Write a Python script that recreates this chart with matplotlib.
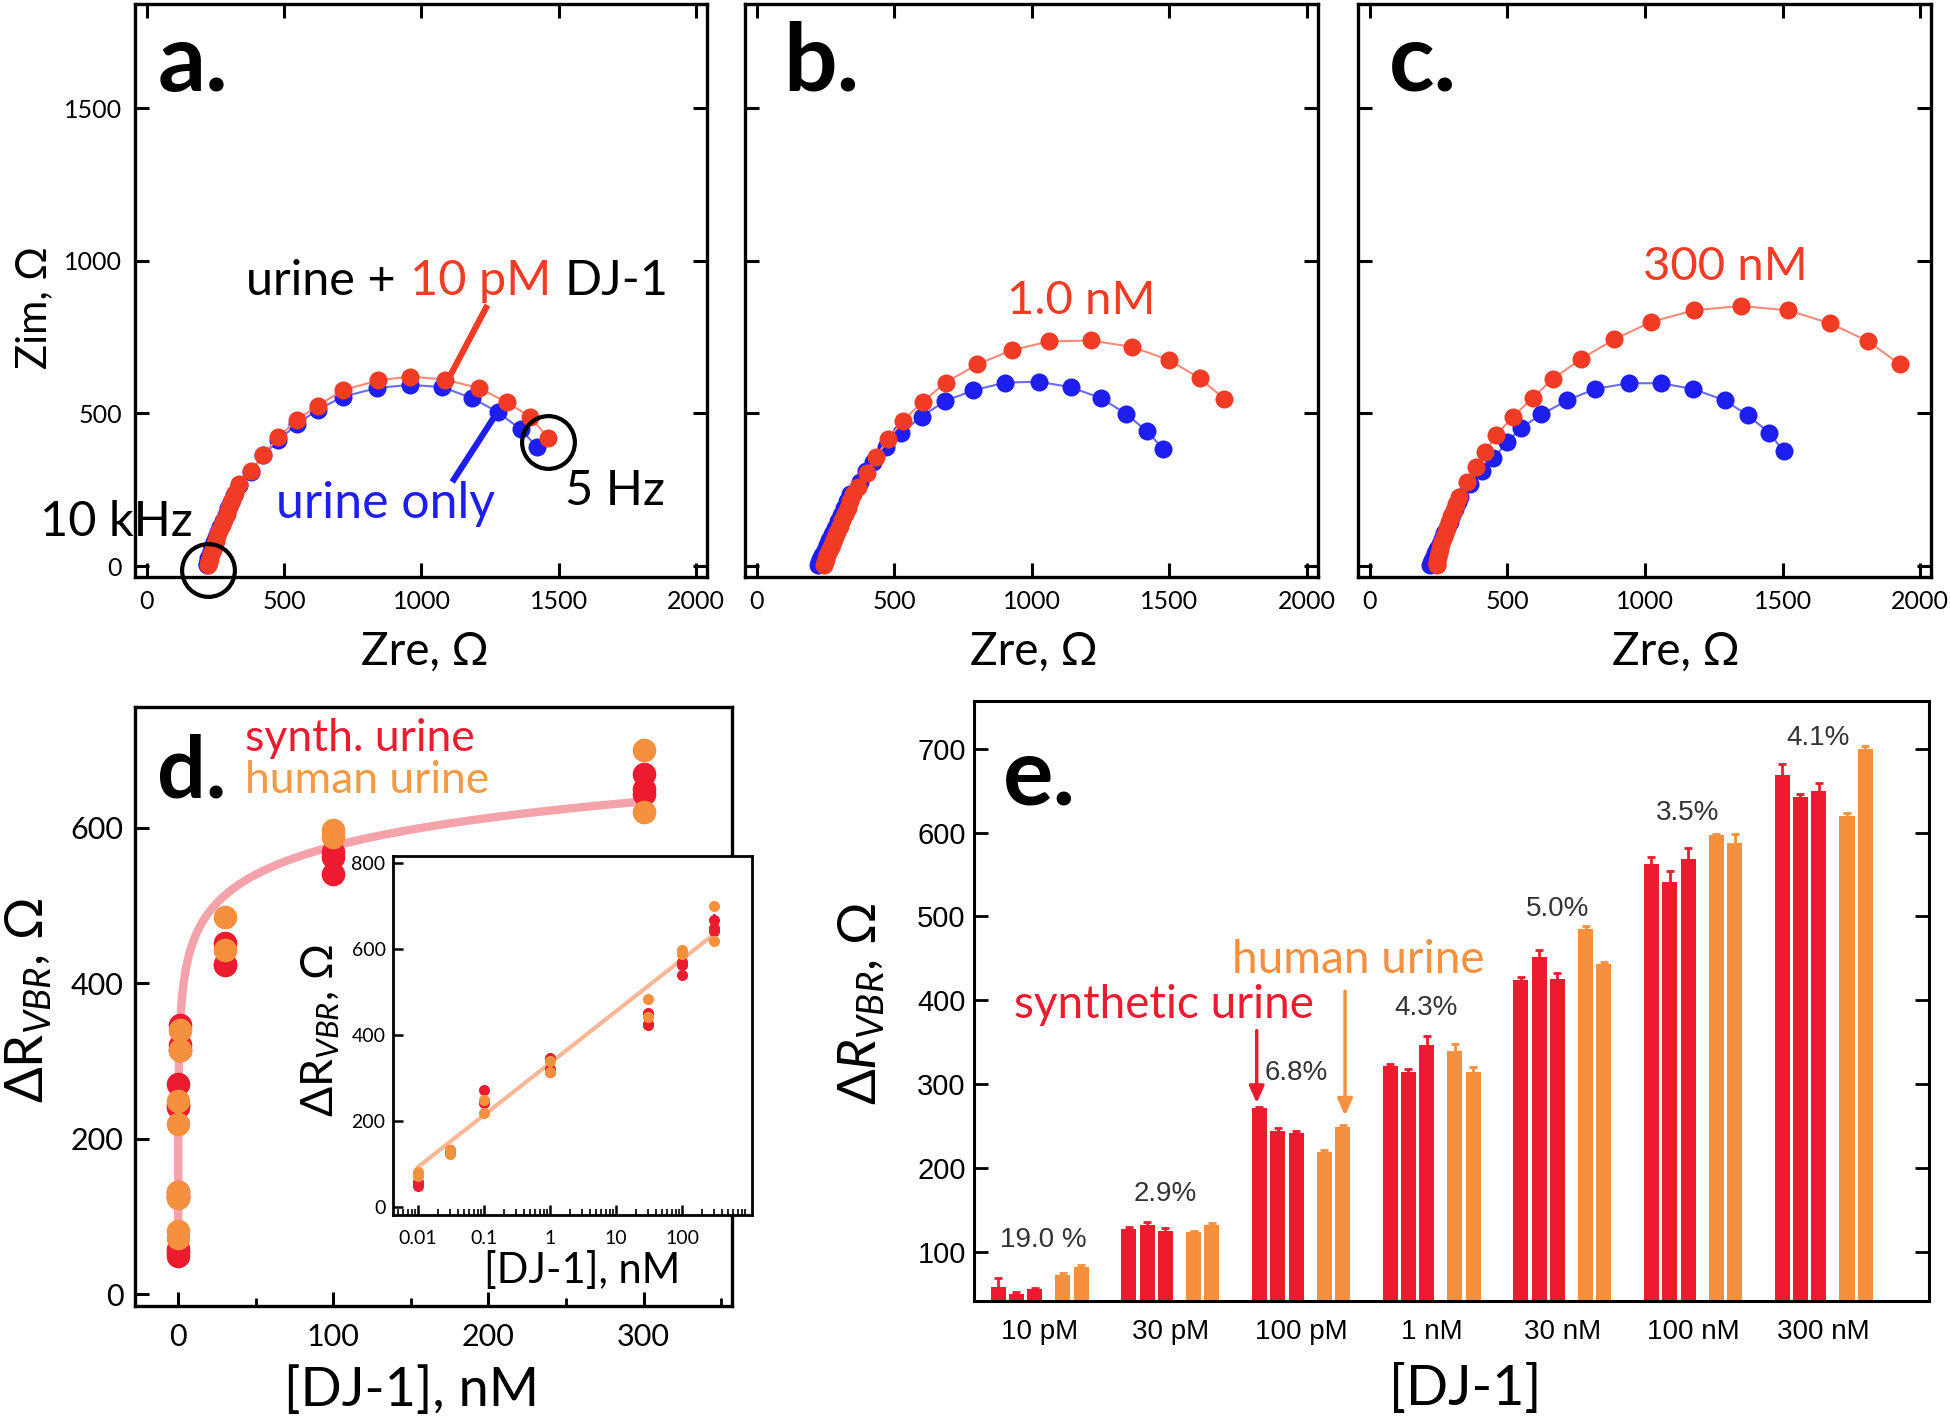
import numpy as np
import matplotlib.pyplot as plt

plt.rcParams['font.family'] = ['Lato', 'DejaVu Sans']
plt.rcParams['mathtext.fontset'] = 'custom'
plt.rcParams['mathtext.rm'] = 'Lato'
plt.rcParams['mathtext.it'] = 'Lato:italic'

a_blue_zre = [1420, 1361, 1277, 1185, 1076, 958, 837, 714, 622, 546, 479, 424, 378, 336,
              318, 307, 297, 287, 277, 268, 259, 251, 244, 238, 232, 228, 224, 221, 219, 218]
a_blue_zim = [391, 448, 505, 550, 586, 594, 583, 555, 512, 465, 412, 363, 309, 266,
              232, 210, 189, 168, 148, 129, 111, 94, 78, 63, 49, 36, 25, 15, 7, 2]
a_red_zre = [1462, 1395, 1311, 1210, 1084, 958, 840, 714, 622, 546, 479, 424, 378, 336,
             322, 310, 300, 290, 281, 272, 264, 257, 250, 244, 239, 234, 230, 227, 225, 224]
a_red_zim = [419, 490, 536, 583, 611, 621, 608, 576, 526, 479, 422, 365, 313, 270,
             240, 215, 193, 172, 152, 133, 115, 98, 82, 66, 52, 39, 28, 18, 10, 4]

b_blue_zre = [1477, 1419, 1343, 1252, 1141, 1025, 903, 787, 683, 599, 524, 469, 423, 398, 375, 339,
              328, 318, 306, 295, 284, 273, 263, 254, 246, 238, 231, 226, 222]
b_blue_zim = [384, 441, 498, 550, 586, 604, 601, 576, 540, 490, 436, 391, 342, 310, 277, 235,
              212, 190, 168, 147, 126, 106, 87, 69, 52, 37, 24, 13, 5]
b_red_zre = [1700, 1610, 1497, 1365, 1213, 1061, 927, 801, 686, 603, 532, 475, 433, 399, 368,
             350, 340, 330, 320, 311, 302, 293, 284, 276, 268, 261, 255, 250, 247, 245]
b_red_zim = [547, 616, 675, 718, 739, 736, 707, 661, 601, 539, 476, 415, 356, 304, 260,
             235, 212, 190, 170, 150, 131, 113, 96, 80, 64, 49, 35, 23, 12, 4]

c_blue_zre = [1504, 1452, 1374, 1289, 1176, 1058, 940, 817, 718, 623, 548, 499, 449, 407, 364, 329,
              320, 310, 300, 290, 280, 270, 261, 253, 245, 238, 232, 227, 223, 220]
c_blue_zim = [376, 436, 494, 543, 580, 599, 599, 580, 543, 497, 452, 405, 355, 312, 270, 227,
              210, 188, 167, 146, 126, 107, 89, 72, 56, 42, 30, 19, 10, 3]
c_red_zre = [1926, 1812, 1674, 1518, 1348, 1178, 1023, 888, 768, 666, 591, 521, 457, 420, 385, 351,
             322, 313, 304, 296, 288, 280, 273, 266, 260, 255, 250, 247, 245, 244, 244]
c_red_zim = [661, 736, 795, 838, 852, 838, 800, 743, 679, 614, 551, 490, 428, 373, 324, 275,
             227, 205, 184, 163, 143, 124, 106, 89, 72, 56, 42, 29, 17, 8, 2]

# ---- calibration data (panels d, e) ----
conc_nM = [0.01, 0.03, 0.1, 1, 30, 100, 300]
conc_labels = ['10 pM', '30 pM', '100 pM', '1 nM', '30 nM', '100 nM', '300 nM']
synth = [[58, 49, 55], [127, 132, 125], [271, 244, 241], [321, 314, 347],
         [424, 452, 425], [563, 541, 569], [669, 643, 650]]
synth_err = [[10, 3, 1], [2, 3, 3], [2, 3, 3], [3, 4, 10],
             [4, 8, 7], [8, 13, 13], [13, 3, 9]]
human = [[72, 82], [124, 132], [219, 249], [340, 314], [485, 443], [597, 588], [620, 700]]
human_err = [[2, 2], [1, 2], [2, 2], [8, 6], [4, 3], [2, 10], [3, 3]]
rsd_labels = ['19.0 %', '2.9%', '6.8%', '4.3%', '5.0%', '3.5%', '4.1%']
rsd_y = [105, 161, 305, 382, 501, 615, 705]
# log-linear calibration fit: dR = b0 + b1*log10(c)
fit_b0 = 334.6
fit_b1 = 120.9

RED_NQ = '#F23B24'
BLUE_NQ = '#1E1EF0'
RED = '#ED1B2F'
ORANGE = '#F5913E'

fig = plt.figure(figsize=(19.5, 14.21), dpi=100)


def nyquist(ax, bx, by, rx, ry, xlab_x=0.505):
    ax.plot(bx, by, '-', color='#6a6af5', lw=1.5, zorder=2)
    ax.plot(bx, by, 'o', color=BLUE_NQ, ms=13, mec='none', zorder=3)
    ax.plot(rx, ry, '-', color='#f78a78', lw=1.5, zorder=4)
    ax.plot(rx, ry, 'o', color=RED_NQ, ms=13, mec='none', zorder=5)
    ax.set_xlim(-45, 2040)
    ax.set_ylim(-36, 1840)
    ax.set_xticks([0, 500, 1000, 1500, 2000])
    ax.set_yticks([0, 500, 1000, 1500])
    ax.tick_params(direction='in', top=True, right=True, length=10, width=2.2,
                   labelsize=18, pad=9)
    for s in ax.spines.values():
        s.set_linewidth(2.4)
    ax.text(xlab_x, -0.13, 'Zre, Ω', transform=ax.transAxes, ha='center', va='center', fontsize=33)


ax_a = fig.add_axes([0.0690, 0.5939, 0.2936, 0.4030])
ax_b = fig.add_axes([0.3818, 0.5939, 0.2941, 0.4030])
ax_c = fig.add_axes([0.6962, 0.5939, 0.2941, 0.4030])

nyquist(ax_a, a_blue_zre, a_blue_zim, a_red_zre, a_red_zim, 0.507)
nyquist(ax_b, b_blue_zre, b_blue_zim, b_red_zre, b_red_zim, 0.504)
nyquist(ax_c, c_blue_zre, c_blue_zim, c_red_zre, c_red_zim, 0.555)
ax_b.tick_params(labelleft=False)
ax_c.tick_params(labelleft=False)
ax_a.text(-0.175, 0.47, 'Zim, Ω', transform=ax_a.transAxes, rotation=90,
          ha='center', va='center', fontsize=30)

for ax, lab, x in [(ax_a, 'a.', 0.041), (ax_b, 'b.', 0.067), (ax_c, 'c.', 0.055)]:
    ax.text(x, 0.849, lab, transform=ax.transAxes, fontsize=68, fontweight='bold',
            va='baseline')

# annotations panel a
t1 = ax_a.text(361, 889, 'urine +', fontsize=35, va='baseline', color='k')
t2 = ax_a.annotate('10 pM', xy=(1, 0), xycoords=t1, xytext=(10, 0), textcoords='offset points',
                   fontsize=35, color=RED_NQ, va='bottom')
ax_a.annotate('DJ-1', xy=(1, 0), xycoords=t2, xytext=(10, 0), textcoords='offset points',
              fontsize=35, color='k', va='bottom')
ax_a.plot([1235, 1101], [846, 618], color=RED_NQ, lw=4.5, zorder=6)
ax_a.text(470, 156, 'urine only', fontsize=36, color=BLUE_NQ, va='baseline')
ax_a.plot([1118, 1261], [284, 483], color=BLUE_NQ, lw=4.5, zorder=6)
ax_a.text(1521, 199, '5 Hz', fontsize=35, va='baseline')
ax_a.text(-390, 100, '10 kHz', fontsize=35, va='baseline')
ax_a.plot([1459], [405], 'o', ms=38, mfc='none', mec='k', mew=3, zorder=7, clip_on=False)
ax_a.plot([222], [-14], 'o', ms=38, mfc='none', mec='k', mew=3, zorder=7, clip_on=False)

ax_b.text(910, 825, '1.0 nM', fontsize=34, color=RED_NQ, va='baseline')
ax_c.text(994, 938, '300 nM', fontsize=34, color=RED_NQ, va='baseline')

# ---- panel d ----
ax_d = fig.add_axes([0.0691, 0.0809, 0.3063, 0.4213])
xfit = np.logspace(np.log10(0.005), np.log10(300), 400)
ax_d.plot(xfit, fit_b0 + fit_b1 * np.log10(xfit), color='#F4A3AA', lw=6, zorder=1)
for i, c in enumerate(conc_nM):
    for v, e in zip(synth[i], synth_err[i]):
        ax_d.errorbar(c, v, yerr=e, fmt='o', color=RED, ms=17, mec='none', elinewidth=2, zorder=3)
    for v, e in zip(human[i], human_err[i]):
        ax_d.errorbar(c, v, yerr=e, fmt='o', color=ORANGE, ms=17, mec='none', elinewidth=2, zorder=3)
ax_d.set_xlim(-28, 357)
ax_d.set_ylim(-15, 755)
ax_d.set_xticks([0, 100, 200, 300])
ax_d.set_xticks([50, 150, 250, 350], minor=True)
ax_d.set_yticks([0, 200, 400, 600])
ax_d.tick_params(direction='in', length=10, width=2.2, labelsize=22, pad=8)
ax_d.tick_params(axis='x', pad=12)
ax_d.tick_params(which='minor', direction='in', length=6, width=2)
for s in ax_d.spines.values():
    s.set_linewidth(2.4)
ax_d.text(-0.177, 0.51, 'Δ$\\mathrm{R}_{\\mathit{VBR}}$, Ω', transform=ax_d.transAxes,
          rotation=90, ha='center', va='center', fontsize=38)
ax_d.text(0.464, -0.14, '[DJ-1], nM', transform=ax_d.transAxes, ha='center', va='center',
          fontsize=39)
ax_d.text(0.037, 0.849, 'd.', transform=ax_d.transAxes, fontsize=62, fontweight='bold',
          va='baseline')
ax_d.text(0.185, 0.927, 'synth. urine', transform=ax_d.transAxes, fontsize=32, color=RED,
          va='baseline')
ax_d.text(0.185, 0.857, 'human urine', transform=ax_d.transAxes, fontsize=32, color='#F39A45',
          va='baseline')

# inset
ax_in = fig.add_axes([0.2013, 0.1450, 0.1844, 0.2526])
ax_in.set_xscale('log')
ax_in.plot([0.01, 300], [fit_b0 + fit_b1 * np.log10(0.01), fit_b0 + fit_b1 * np.log10(300)],
           color='#F8B896', lw=3, zorder=1)
for i, c in enumerate(conc_nM):
    for v, e in zip(synth[i], synth_err[i]):
        ax_in.errorbar(c, v, yerr=e, fmt='o', color=RED, ms=8, mec='none', elinewidth=1.5, zorder=3)
    for v, e in zip(human[i], human_err[i]):
        ax_in.errorbar(c, v, yerr=e, fmt='o', color=ORANGE, ms=8, mec='none', elinewidth=1.5, zorder=3)
ax_in.set_xlim(0.0041, 1150)
ax_in.set_ylim(-19, 817)
ax_in.set_xticks([0.01, 0.1, 1, 10, 100])
ax_in.set_xticklabels(['0.01', '0.1', '1', '10', '100'])
ax_in.set_yticks([0, 200, 400, 600, 800])
ax_in.tick_params(direction='in', length=7, width=1.8, labelsize=14, pad=5)
ax_in.tick_params(axis='x', pad=11)
ax_in.tick_params(which='minor', direction='in', length=4, width=1.2)
for s in ax_in.spines.values():
    s.set_linewidth(2)
ax_in.text(-0.2, 0.515, 'Δ$\\mathrm{R}_{\\mathit{VBR}}$, Ω', transform=ax_in.transAxes,
           rotation=90, ha='center', va='center', fontsize=32)
ax_in.text(0.527, -0.156, '[DJ-1], nM', transform=ax_in.transAxes, ha='center', va='center',
           fontsize=30)

# ---- panel e ----
ax_e = fig.add_axes([0.4995, 0.0844, 0.4897, 0.4222])
red_off = [-0.318, -0.178, -0.038]
org_off = [0.178, 0.318]
bw = 0.115
for g in range(len(conc_labels)):
    for k in range(3):
        ax_e.bar(g + red_off[k], synth[g][k], width=bw, color=RED, zorder=2,
                 yerr=synth_err[g][k], error_kw=dict(ecolor=RED, elinewidth=2, capsize=3, capthick=2))
    for k in range(2):
        ax_e.bar(g + org_off[k], human[g][k], width=bw, color=ORANGE, zorder=2,
                 yerr=human_err[g][k], error_kw=dict(ecolor=ORANGE, elinewidth=2, capsize=3, capthick=2))
    ax_e.text(g + (0.03 if g == 0 else -0.04), rsd_y[g], rsd_labels[g], ha='center', va='baseline',
              fontsize=20, color='#333333', family=['Liberation Sans', 'DejaVu Sans'])
ax_e.set_xlim(-0.502, 6.805)
ax_e.set_ylim(41, 757)
ax_e.set_xticks(range(len(conc_labels)))
ax_e.set_xticklabels(conc_labels)
ax_e.set_yticks([100, 200, 300, 400, 500, 600, 700])
ax_e.tick_params(axis='x', length=0, pad=13, labelsize=20)
ax_e.tick_params(axis='y', direction='in', right=True, length=10, width=2, labelsize=21, pad=6)
for lbl in ax_e.get_xticklabels() + ax_e.get_yticklabels():
    lbl.set_fontfamily(['Liberation Sans', 'DejaVu Sans'])
for s in ax_e.spines.values():
    s.set_linewidth(2.2)
ax_e.text(-0.117, 0.495, 'Δ$R_{VBR}$, Ω', transform=ax_e.transAxes, rotation=90,
          ha='center', va='center', fontsize=38)
ax_e.text(0.514, -0.147, '[DJ-1]', transform=ax_e.transAxes, ha='center', va='center', fontsize=40)
ax_e.text(0.030, 0.827, 'e.', transform=ax_e.transAxes, fontsize=68, fontweight='bold', va='baseline')
ax_e.text(0.95, 379, 'synthetic urine', ha='center', va='baseline', fontsize=33, color=RED)
ax_e.text(2.44, 433, 'human urine', ha='center', va='baseline', fontsize=33, color=ORANGE)
ax_e.annotate('', xy=(1.661, 274), xytext=(1.661, 367),
              arrowprops=dict(arrowstyle='-|>,head_width=0.45,head_length=1.0', color=RED, lw=2.5))
ax_e.annotate('', xy=(2.337, 259), xytext=(2.337, 414),
              arrowprops=dict(arrowstyle='-|>,head_width=0.45,head_length=1.0', color=ORANGE, lw=2.5))

fig.savefig('out.png', dpi=100)
